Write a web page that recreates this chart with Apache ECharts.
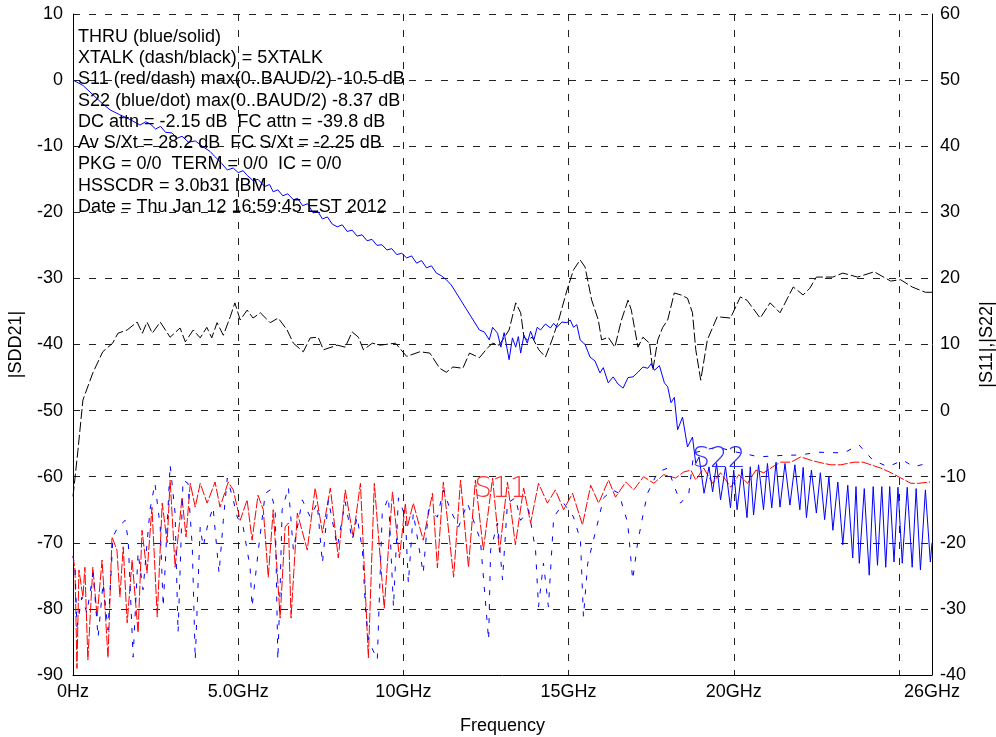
<!DOCTYPE html>
<html>
<head>
	<meta charset="utf-8" />
	<title>SDD21</title>
	<style>
		html,body{margin:0;padding:0;background:#fff;overflow:hidden;}
		#main{width:996px;height:737px;}
	</style>
</head>
<body>
	<div id="main"></div>
	<script src="https://cdn.jsdelivr.net/npm/echarts@6/dist/echarts.min.js"></script>
	<script type="text/javascript">
		// THRU (blue/solid), left axis, [GHz, dB]
		var thruData = [
			[0,0],[0.3,-0.8],[0.6,-2.2],[0.9,-3.6],[1.12,-4.5],[1.4,-5.2],[1.7,-5.9],[2.03,-6.8],[2.2,-6.3],[2.33,-6.6],
			[2.5,-7.4],[2.65,-7.0],[2.8,-7.9],[3.0,-8.0],[3.15,-8.8],[3.3,-8.5],[3.5,-9.4],[3.7,-9.2],[3.94,-10.1],[4.15,-10.8],
			[4.3,-11.6],[4.5,-12.6],[4.67,-13.6],[4.85,-13.3],[5.0,-14.0],[5.15,-13.7],[5.27,-14.4],[5.45,-15.2],[5.6,-15.0],[5.8,-16.1],
			[5.95,-15.8],[6.06,-16.9],[6.2,-16.6],[6.35,-17.5],[6.5,-17.2],[6.67,-18.1],[6.8,-17.9],[6.95,-19.0],[7.1,-18.7],[7.27,-20.1],
			[7.4,-19.8],[7.55,-21.0],[7.7,-20.7],[7.85,-21.8],[8.0,-22.2],[8.15,-21.9],[8.3,-22.9],[8.45,-22.7],[8.6,-23.6],[8.75,-23.4],
			[8.9,-24.3],[9.05,-24.1],[9.2,-25.0],[9.35,-24.9],[9.5,-25.7],[9.65,-25.5],[9.8,-26.4],[9.95,-26.2],[10.1,-26.9],[10.25,-26.6],
			[10.4,-27.7],[10.55,-27.3],[10.7,-28.4],[10.85,-28.1],[11.0,-29.2],[11.15,-29.6],[11.3,-30.2],[11.45,-31.0],[11.6,-32.2],[11.75,-33.4],
			[11.9,-34.6],[12.05,-35.8],[12.15,-36.6],[12.3,-37.8],[12.45,-38.1],[12.6,-39.3],[12.7,-37.4],[12.85,-38.3],[12.95,-40.4],[13.05,-38.2],
			[13.2,-42.3],[13.3,-39.0],[13.4,-40.4],[13.48,-38.8],[13.55,-41.3],[13.65,-38.6],[13.75,-39.8],[13.85,-38.0],[13.95,-39.3],[14.05,-37.4],
			[14.15,-37.8],[14.3,-36.9],[14.45,-37.5],[14.55,-36.8],[14.65,-37.4],[14.8,-36.6],[14.95,-36.7],[15.05,-36.3],[15.15,-37.4],[15.25,-37.0],
			[15.35,-39.3],[15.5,-40.0],[15.65,-41.9],[15.8,-42.5],[15.95,-44.3],[16.05,-43.5],[16.2,-45.8],[16.35,-44.9],[16.5,-46.0],[16.65,-46.6],
			[16.8,-45.0],[16.95,-44.9],[17.1,-44.2],[17.25,-43.4],[17.4,-43.6],[17.5,-42.9],[17.6,-43.9],[17.75,-43.2],[17.9,-45.8],[18.0,-46.4],
			[18.1,-48.8],[18.2,-48.0],[18.3,-52.9],[18.45,-51.0],[18.6,-55.5],[18.75,-54.0],[18.85,-58.0],[18.95,-57.0],[19.1,-62.5],[19.25,-58.5],
			[19.36,-62.3],[19.48,-58.0],[19.6,-63.5],[19.75,-58.5],[19.9,-64.7],[20.0,-59.0],[20.1,-65.0],[20.25,-58.8],[20.4,-66.2],[20.5,-58.5],
			[20.6,-65.8],[20.75,-58.2],[20.9,-65.0],[21.02,-58.0],[21.15,-64.7],[21.28,-57.8],[21.4,-64.6],[21.55,-58.0],[21.7,-64.3],[21.85,-58.2],
			[22.0,-65.0],[22.1,-58.6],[22.2,-66.2],[22.35,-59.0],[22.5,-65.5],[22.62,-59.4],[22.75,-66.5],[22.88,-60.0],[23.0,-68.1],[23.15,-60.8],
			[23.3,-70.3],[23.45,-61.3],[23.6,-72.3],[23.7,-61.5],[23.8,-73.1],[23.95,-61.8],[24.1,-74.9],[24.22,-61.5],[24.35,-73.4],[24.48,-61.5],
			[24.6,-73.7],[24.72,-61.5],[24.85,-72.9],[24.97,-61.6],[25.1,-73.1],[25.25,-61.6],[25.4,-73.7],[25.52,-61.8],[25.65,-74.1],[25.8,-62.0],
			[25.95,-72.9],[26.0,-70.0]
		];

		// XTALK (dash/black), left axis
		var xtalkData = [
			[0,-63],[0.15,-56],[0.3,-48.4],[0.6,-44.3],[0.9,-41.1],[1.2,-39.8],[1.36,-38.3],[1.64,-37.8],[1.94,-36.6],[2.1,-38.3],
			[2.24,-36.6],[2.4,-38.3],[2.64,-36.6],[2.94,-38.9],[3.24,-37.5],[3.4,-39.6],[3.64,-37.8],[3.85,-39.0],[4.05,-37.4],[4.2,-39.0],
			[4.36,-36.7],[4.55,-38.6],[4.76,-35.8],[4.9,-33.7],[5.06,-36.3],[5.27,-34.8],[5.45,-36.0],[5.67,-35.2],[5.97,-36.7],[6.21,-36.0],
			[6.48,-37.8],[6.67,-39.8],[6.97,-41.1],[7.18,-39.0],[7.42,-38.9],[7.58,-40.8],[8.0,-40.1],[8.24,-40.4],[8.45,-38.1],[8.64,-38.9],
			[8.79,-40.8],[9.06,-39.8],[9.3,-40.1],[9.76,-39.8],[10.1,-41.8],[10.5,-41.1],[10.8,-41.3],[11.1,-43.6],[11.3,-44.2],[11.5,-43.4],
			[11.8,-43.6],[12.0,-41.3],[12.3,-42.0],[12.55,-40.5],[12.7,-39.8],[12.9,-40.1],[13.2,-37.8],[13.4,-33.7],[13.55,-35.2],[13.65,-38.9],
			[13.75,-39.3],[13.9,-38.9],[14.1,-40.8],[14.3,-41.9],[14.5,-39.3],[14.7,-36.3],[14.95,-31.8],[15.15,-28.7],[15.35,-27.2],[15.5,-28.3],
			[15.7,-33.3],[15.9,-36.3],[16.0,-39.3],[16.2,-38.9],[16.4,-40.4],[16.6,-36.3],[16.8,-33.3],[16.9,-34.8],[17.1,-40.4],[17.25,-38.9],
			[17.45,-39.8],[17.55,-43.9],[17.7,-39.3],[17.85,-37.4],[18.0,-36.3],[18.2,-32.2],[18.4,-32.5],[18.6,-33.0],[18.75,-35.2],[18.85,-40.8],
			[19.0,-45.4],[19.2,-39.3],[19.5,-35.8],[19.9,-36.0],[20.2,-32.8],[20.4,-33.3],[20.8,-36.0],[21.1,-33.7],[21.4,-35.2],[21.8,-31.3],
			[22.1,-32.5],[22.3,-31.5],[22.5,-29.8],[23.0,-29.8],[23.3,-29.2],[23.75,-29.8],[24.25,-29.0],[24.75,-30.4],[25.05,-30.2],[25.4,-31.3],
			[25.8,-32.1],[26.0,-32.1]
		];

		// S11 (red/dash), right axis
		var s11Data = [
			[0,-22],[0.06,-24.1],[0.12,-39.0],[0.18,-24.1],[0.3,-28.2],[0.36,-23.7],[0.45,-37.7],[0.6,-23.7],[0.73,-31.2],[0.88,-22.6],
			[1.06,-37.4],[1.18,-19.1],[1.33,-21.1],[1.42,-28.2],[1.52,-20.6],[1.64,-32.1],[1.79,-22.6],[1.97,-33.6],[2.09,-18.1],[2.24,-24.6],
			[2.39,-14.6],[2.55,-31.2],[2.7,-14.0],[2.85,-20.0],[2.94,-10.5],[3.09,-23.7],[3.3,-13.1],[3.42,-19.1],[3.55,-11.0],[3.7,-14.6],
			[3.85,-11.0],[4.06,-14.0],[4.3,-10.8],[4.45,-14.6],[4.7,-10.8],[4.85,-12.0],[5.06,-16.6],[5.27,-13.5],[5.42,-19.6],[5.6,-12.8],
			[5.76,-15.0],[5.91,-25.2],[6.06,-15.0],[6.27,-31.4],[6.42,-17.6],[6.52,-17.0],[6.6,-31.4],[6.79,-15.5],[7.09,-21.1],[7.33,-11.7],
			[7.55,-18.5],[7.79,-11.7],[8.03,-22.3],[8.24,-12.0],[8.48,-19.1],[8.7,-11.0],[8.94,-37.4],[9.12,-11.0],[9.42,-29.9],[9.67,-12.3],
			[9.88,-22.3],[10.06,-14.0],[10.12,-17.6],[10.3,-14.0],[10.6,-19.6],[10.88,-12.5],[11.03,-23.8],[11.21,-10.8],[11.52,-25.2],[11.73,-10.5],
			[11.97,-23.7],[12.18,-10.5],[12.42,-21.1],[12.7,-10.2],[12.91,-21.4],[13.15,-10.8],[13.39,-20.3],[13.64,-11.7],[13.85,-17.0],[14.09,-11.0],
			[14.36,-14.0],[14.6,-12.0],[14.85,-15.0],[15.12,-12.5],[15.42,-17.3],[15.67,-11.3],[15.91,-14.0],[16.21,-10.5],[16.42,-13.1],[16.73,-10.8],
			[16.97,-12.0],[17.27,-10.0],[17.58,-11.0],[17.88,-9.7],[18.24,-10.2],[18.48,-9.3],[18.7,-9.0],[18.85,-10.5],[19.09,-8.7],[19.36,-11.0],
			[19.6,-9.4],[19.91,-11.6],[20.15,-9.7],[20.42,-11.0],[20.67,-9.0],[20.91,-9.4],[21.18,-8.5],[21.42,-7.8],[21.73,-7.8],[22.03,-7.0],
			[22.33,-7.5],[22.64,-7.9],[22.94,-8.2],[23.24,-8.2],[23.64,-7.8],[23.91,-7.8],[24.15,-8.2],[24.45,-8.7],[24.76,-9.4],[25.06,-10.2],
			[25.36,-11.0],[25.6,-11.0],[25.94,-10.8]
		];

		// S22 (blue/dot), right axis
		var s22Data = [
			[0,-22],[0.06,-23.7],[0.12,-32.7],[0.27,-28.2],[0.42,-30.6],[0.61,-24.6],[0.76,-34.3],[0.91,-26.1],[1.06,-33.2],[1.21,-19.1],
			[1.36,-17.6],[1.58,-16.6],[1.67,-19.6],[1.82,-37.3],[1.97,-21.5],[2.12,-27.1],[2.33,-15.0],[2.48,-11.0],[2.64,-17.6],[2.73,-29.7],
			[2.94,-8.2],[3.09,-15.5],[3.18,-33.6],[3.33,-10.5],[3.48,-11.0],[3.61,-20.6],[3.7,-37.7],[3.85,-17.6],[3.94,-20.6],[4.09,-17.0],
			[4.24,-14.6],[4.42,-24.6],[4.55,-16.6],[4.67,-10.2],[4.85,-13.5],[4.97,-16.1],[5.15,-17.6],[5.36,-23.7],[5.42,-29.7],[5.61,-21.1],
			[5.82,-12.5],[5.97,-12.0],[6.12,-15.0],[6.2,-37.7],[6.27,-26.6],[6.33,-15.0],[6.52,-11.6],[6.67,-21.1],[6.94,-13.5],[7.18,-16.1],
			[7.39,-14.0],[7.55,-23.1],[7.73,-13.5],[8.0,-20.6],[8.24,-13.8],[8.45,-19.6],[8.6,-16.1],[8.76,-21.1],[8.85,-29.7],[8.94,-34.7],
			[9.21,-37.7],[9.36,-15.5],[9.55,-13.1],[9.7,-29.7],[9.85,-13.2],[10.06,-16.1],[10.15,-26.1],[10.3,-15.5],[10.6,-24.6],[10.76,-15.0],
			[11.03,-16.1],[11.21,-12.0],[11.42,-15.0],[11.67,-17.6],[11.94,-14.0],[12.33,-19.6],[12.58,-34.7],[12.64,-21.1],[12.85,-17.0],[13.0,-25.6],
			[13.15,-14.0],[13.39,-13.2],[13.55,-16.6],[13.79,-15.0],[14.0,-21.1],[14.09,-29.7],[14.24,-23.1],[14.39,-29.7],[14.55,-16.1],[14.85,-14.0],
			[15.15,-16.1],[15.36,-19.6],[15.45,-31.2],[15.58,-23.1],[15.88,-17.0],[16.06,-13.2],[16.33,-12.0],[16.52,-12.5],[16.79,-17.0],[16.94,-25.6],
			[17.09,-20.0],[17.24,-16.1],[17.39,-12.5],[17.7,-9.3],[18.0,-8.7],[18.39,-14.0],[18.64,-12.5],[18.79,-6.4],[19.1,-6.0],[19.5,-5.5],
			[20.0,-6.2],[20.4,-6.6],[20.76,-7.0],[21.4,-6.8],[22.03,-6.7],[22.55,-6.3],[23.33,-6.4],[23.79,-5.2],[24.21,-7.5],[24.67,-8.5],
			[25.12,-7.5],[25.45,-8.5],[25.91,-7.9]
		];

		var xTickText = {0:'0Hz', 5:'5.0GHz', 10:'10GHz', 15:'15GHz', 20:'20GHz', 26:'26GHz'};
		var infoLines = [
			'THRU (blue/solid)',
			'XTALK (dash/black) = 5XTALK',
			'S11 (red/dash) max(0..BAUD/2) -10.5 dB',
			'S22 (blue/dot) max(0..BAUD/2) -8.37 dB',
			'DC attn = -2.15 dB  FC attn = -39.8 dB',
			'Av S/Xt = 28.2 dB  FC S/Xt = -2.25 dB',
			'PKG = 0/0  TERM = 0/0  IC = 0/0',
			'HSSCDR = 3.0b31 IBM',
			'Date = Thu Jan 12 16:59:45 EST 2012'
		];

		var font = 'Liberation Sans, Arial, sans-serif';
		var gridLine = {show: true, lineStyle: {color: '#222', type: [7, 9], width: 1}};
		var chart = echarts.init(document.getElementById('main'), null, {renderer: 'canvas'});
		chart.setOption({
			animation: false,
			backgroundColor: '#fff',
			textStyle: {fontFamily: font},
			grid: {left: 73, right: 64, top: 14, bottom: 62, outerBoundsMode: 'none', containLabel: false},
			xAxis: {
				type: 'value', min: 0, max: 26, interval: 5,
				name: 'Frequency', nameLocation: 'middle', nameGap: 42,
				nameTextStyle: {fontSize: 18, color: '#000', fontFamily: font},
				axisLine: {onZero: false, lineStyle: {color: '#000', width: 1}},
				axisTick: {show: false},
				axisLabel: {
					fontSize: 18, color: '#000', margin: 8, showMaxLabel: true, showMinLabel: true,
					formatter: function (v) { return xTickText[v] || ''; }
				},
				splitLine: gridLine
			},
			yAxis: [{
				type: 'value', min: -90, max: 10, interval: 10, position: 'left',
				name: '|SDD21|', nameLocation: 'middle', nameGap: 48, nameRotate: 90,
				nameTextStyle: {fontSize: 18, color: '#000', fontFamily: font},
				axisLine: {show: true, onZero: false, lineStyle: {color: '#000', width: 1}},
				axisTick: {show: false},
				axisLabel: {fontSize: 18, color: '#000', margin: 10},
				splitLine: gridLine
			}, {
				type: 'value', min: -40, max: 60, interval: 10, position: 'right',
				name: '|S11|,|S22|', nameLocation: 'middle', nameGap: 46, nameRotate: 90,
				nameTextStyle: {fontSize: 18, color: '#000', fontFamily: font},
				axisLine: {show: true, onZero: false, lineStyle: {color: '#000', width: 1}},
				axisTick: {show: false},
				axisLabel: {fontSize: 18, color: '#000', margin: 8},
				splitLine: {show: false}
			}],
			graphic: [{
				type: 'text', left: 78, top: 26, z: 100,
				style: {
					text: infoLines.join('\n'), font: '18px ' + font, fill: '#000', lineHeight: 21.3
				}
			}],
			series: [{
				name: 'THRU', type: 'line', yAxisIndex: 0, data: thruData,
				showSymbol: false, symbol: 'none',
				lineStyle: {color: '#0000ff', width: 1}, z: 4
			}, {
				name: 'XTALK', type: 'line', yAxisIndex: 0, data: xtalkData,
				showSymbol: false, symbol: 'none',
				lineStyle: {color: '#000', width: 1, type: [10, 3]}, z: 3
			}, {
				name: 'S11', type: 'line', yAxisIndex: 1, data: s11Data,
				showSymbol: false, symbol: 'none',
				lineStyle: {color: '#ff0000', width: 1, type: [10, 2]}, z: 3,
				markPoint: {
					symbol: 'circle', symbolSize: 1, silent: true,
					itemStyle: {color: 'rgba(0,0,0,0)'},
					data: [{coord: [12.95, -12], value: 'S11'}],
					label: {show: true, position: 'inside', formatter: 'S11', color: '#ff3030', fontSize: 28, fontFamily: 'DejaVu Sans', fontWeight: 'lighter'}
				}
			}, {
				name: 'S22', type: 'line', yAxisIndex: 1, data: s22Data,
				showSymbol: false, symbol: 'none',
				lineStyle: {color: '#0000ff', width: 1, type: [5, 9]}, z: 3,
				markPoint: {
					symbol: 'circle', symbolSize: 1, silent: true,
					itemStyle: {color: 'rgba(0,0,0,0)'},
					data: [{coord: [19.55, -7.5], value: 'S22'}],
					label: {show: true, position: 'inside', formatter: 'S22', color: '#3030ff', fontSize: 28, fontFamily: 'DejaVu Sans', fontWeight: 'lighter'}
				}
			}]
		});
	</script>
</body>
</html>
